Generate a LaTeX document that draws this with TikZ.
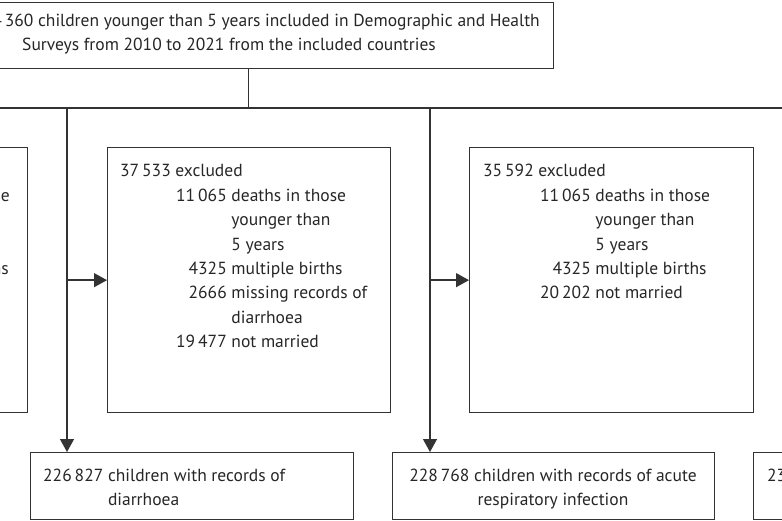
\documentclass[tikz,border=0pt]{standalone}
\usepackage{fontspec}
\setmainfont{PT Sans}
\usetikzlibrary{arrows.meta}
\definecolor{ink}{HTML}{333333}
\definecolor{tink}{HTML}{262626}
\begin{document}
\begin{tikzpicture}[x=1pt,y=-1pt,
  box/.style={draw=ink, line width=1.3pt, inner sep=0pt},
  txt/.style={inner sep=0pt, text=tink, font=\fontsize{17.5}{24.4}\selectfont},
  conn/.style={draw=ink, line width=1.3pt},
  arr/.style={conn, -{Triangle[length=13pt,width=14pt]}}
]
\useasboundingbox (0,0) rectangle (782,521);
\clip (0,0) rectangle (782,521);
% boxes
\node[box, anchor=north west, minimum width=610pt, minimum height=66pt] (top) at (-57,2) {};
\node[box, anchor=north west, minimum width=283pt, minimum height=265pt] (ex1) at (-256,147) {};
\node[box, anchor=north west, minimum width=283pt, minimum height=265pt] (ex2) at (107,147) {};
\node[box, anchor=north west, minimum width=284pt, minimum height=265pt] (ex3) at (469,147) {};
\node[box, anchor=north west, minimum width=323pt, minimum height=67pt] (out1) at (30,452) {};
\node[box, anchor=north west, minimum width=322pt, minimum height=67pt] (out2) at (392,452) {};
\node[box, anchor=north west, minimum width=323pt, minimum height=67pt] (out3) at (753,452) {};
% texts
\node[txt, anchor=base east] (toptxt1) at (540,27) {264\,360 children younger than 5 years included in Demographic and Health};
\node[txt, anchor=base] (toptxt2) at (229,51) {Surveys from 2010 to 2021 from the included countries};
\node[txt, anchor=base east] (ex1a) at (10,201.5) {deaths in those};
\node[txt, anchor=base east] (ex1b) at (9,274.5) {multiple births};
\node[txt, anchor=base west] (ex2t) at (120,177) {\begin{tabular}[t]{@{}p{56pt}@{}r@{\ }l@{}}
\multicolumn{3}{@{}l@{}}{37\,533 excluded}\\
& 11\,065 & deaths in those\\
& & younger than\\
& & 5 years\\
& 4325 & multiple births\\
& 2666 & missing records of\\
& & diarrhoea\\
& 19\,477 & not married
\end{tabular}};
\node[txt, anchor=base west] (ex3t) at (483,177) {\begin{tabular}[t]{@{}p{57pt}@{}r@{\ }l@{}}
\multicolumn{3}{@{}l@{}}{35\,592 excluded}\\
& 11\,065 & deaths in those\\
& & younger than\\
& & 5 years\\
& 4325 & multiple births\\
& 20\,202 & not married
\end{tabular}};
\node[txt, anchor=base west] (out1t) at (43,481) {\begin{tabular}[t]{@{}r@{\ }l@{}}
226\,827 & children with records of\\
& diarrhoea
\end{tabular}};
\node[txt, anchor=base] (out2t) at (553,481) {\begin{tabular}[t]{@{}c@{}}
228\,768 children with records of acute\\
respiratory infection
\end{tabular}};
\node[txt, anchor=base west] (out3t) at (767,481) {23};
% connectors
\coordinate (hl) at (-10,108);
\coordinate (hr) at (792,108);
\coordinate (j1) at (67,108);
\coordinate (j2) at (430,108);
\draw[conn] (top.south) -- (top.south |- hl);
\draw[conn] (hl) -- (hr);
\draw[arr] (j1) -- (j1 |- out1.north);
\draw[arr] (j2) -- (j2 |- out2.north);
\draw[arr] (j1 |- ex2.west) -- (ex2.west);
\draw[arr] (j2 |- ex3.west) -- (ex3.west);
\end{tikzpicture}
\end{document}
